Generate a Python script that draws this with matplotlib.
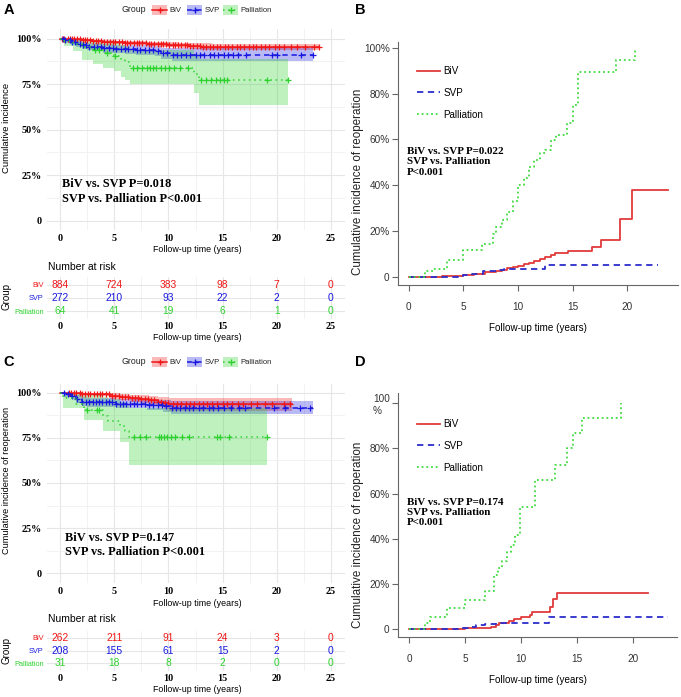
import numpy as np
import matplotlib
matplotlib.use("Agg")
import matplotlib.pyplot as plt
from matplotlib.patches import Rectangle
from matplotlib.lines import Line2D

# ---------------- data ----------------
groups = ["BiV", "SVP", "Palliation"]
risk_times = [0, 5, 10, 15, 20, 25]

# Panel A (survival-type curves, %)
a_biv_t = [0, 1, 2, 3, 4, 5, 6, 7, 8, 9, 10, 11, 12, 13, 14]
a_biv_s = [100, 99.5, 99.0, 98.6, 98.3, 98.0, 97.7, 97.4, 97.1, 96.8, 96.5, 96.2, 95.9, 95.6, 95.3]
a_biv_lo = [100, 99.0, 98.4, 97.9, 97.5, 97.1, 96.7, 96.3, 95.9, 95.5, 95.1, 94.7, 94.3, 93.9, 93.5]
a_biv_hi = [100, 100, 99.6, 99.3, 99.1, 98.9, 98.7, 98.5, 98.3, 98.1, 97.9, 97.7, 97.5, 97.3, 97.1]
a_biv_end = 23.9
a_biv_cens = [0.2, 0.4, 0.7, 0.9, 1.1, 1.3, 1.6, 1.8, 2.1, 2.3, 2.5, 2.8, 3.0, 3.3, 3.5, 3.8, 4.1, 4.3,
              4.6, 4.9, 5.1, 5.4, 5.7, 6.0, 6.2, 6.5, 6.8, 7.1, 7.3, 7.6, 7.9, 8.2, 8.4, 8.7, 9.0, 9.3,
              9.5, 9.8, 10.1, 10.4, 10.6, 10.9, 11.2, 11.5, 11.7, 12.0, 12.3, 12.6, 12.9, 13.2, 13.5,
              13.8, 14.1, 14.5, 14.8, 15.2, 15.5, 15.9, 16.3, 16.6, 17.0, 17.4, 17.8, 18.1, 18.5, 18.9,
              19.3, 19.8, 20.2, 20.7, 21.3, 21.9, 22.6, 23.4, 23.9]

a_svp_t = [0, 0.5, 1, 1.5, 2, 2.5, 3, 4, 5, 6, 7, 8, 8.8, 9.3, 10.3]
a_svp_s = [100, 99.0, 98.0, 97.2, 96.4, 95.6, 95.2, 94.6, 94.2, 94.0, 93.8, 93.5, 93.0, 92.0, 91.2]
a_svp_lo = [100, 97.8, 96.5, 95.5, 94.5, 93.5, 93.0, 92.3, 91.8, 91.5, 91.2, 90.8, 90.2, 89.0, 87.8]
a_svp_hi = [100, 100, 99.5, 99.0, 98.3, 97.7, 97.4, 96.9, 96.6, 96.5, 96.4, 96.2, 95.8, 95.0, 94.6]
a_svp_end = 23.3
a_svp_cens = [0.3, 0.5, 0.9, 1.1, 1.4, 1.8, 2.1, 2.4, 2.7, 3.1, 3.4, 3.8, 4.1, 4.5, 4.9, 5.2, 5.6,
              6.0, 6.3, 6.7, 7.1, 7.4, 7.8, 8.2, 8.6, 9.0, 9.5, 9.9, 10.4, 10.8, 11.2, 11.6, 12.0,
              12.5, 12.9, 13.3, 13.8, 14.2, 14.6, 15.1, 15.5, 16.0, 16.4, 17.2, 19.6, 20.0, 22.2, 23.3]

a_pal_t = [0, 0.4, 1.2, 2.0, 3.0, 4.0, 5.0, 5.6, 6.0, 6.5, 12.4, 12.8]
a_pal_s = [100, 98.4, 96.9, 95.3, 93.7, 92.1, 90.5, 88.9, 87.3, 84.0, 80.6, 77.3]
a_pal_lo = [100, 96.0, 93.0, 88.0, 86.0, 84.0, 82.0, 79.0, 77.0, 75.0, 70.0, 63.6]
a_pal_hi = [100, 100, 100, 99.5, 99.0, 98.5, 97.5, 96.5, 95.5, 93.5, 91.5, 89.0]
a_pal_end = 21.0
a_pal_cens = [3.2, 3.6, 4.3, 5.1, 6.7, 7.1, 7.6, 8.0, 8.3, 8.6, 8.9, 9.3, 9.7, 10.1, 10.5, 11.1,
              11.8, 13.0, 13.5, 13.9, 14.4, 14.8, 15.1, 15.4, 19.1, 21.0]

a_risk_biv = [884, 724, 383, 98, 7, 0]
a_risk_svp = [272, 210, 93, 22, 2, 0]
a_risk_pal = [64, 41, 19, 6, 1, 0]

# Panel C
c_biv_t = [0, 1, 2, 3, 4.6, 5.5, 6.5, 7.4, 8.2, 9.0, 9.6, 10.1]
c_biv_s = [100, 99.7, 99.4, 99.2, 98.2, 97.5, 97.0, 96.3, 95.8, 95.0, 94.3, 93.6]
c_biv_lo = [100, 99.0, 98.5, 98.0, 96.7, 95.8, 95.0, 94.0, 93.2, 92.0, 90.8, 89.6]
c_biv_hi = [100, 100, 100, 100, 99.5, 99.1, 98.8, 98.4, 98.2, 97.8, 97.5, 97.2]
c_biv_end = 21.4
c_biv_cens = [0.8, 1.0, 1.3, 1.5, 1.8, 2.0, 2.3, 2.6, 2.8, 3.1, 3.4, 3.7, 3.9, 4.2, 4.5, 4.8, 5.1,
              5.4, 5.7, 6.0, 6.3, 6.6, 6.9, 7.2, 7.5, 7.8, 8.1, 8.4, 8.7, 9.0, 9.3, 9.7, 10.0, 10.4,
              10.8, 11.2, 11.6, 12.0, 12.4, 12.8, 13.2, 13.6, 14.0, 14.5, 15.0, 15.4, 15.9, 16.4,
              16.9, 17.6, 18.2, 18.9, 19.6, 20.7, 21.2]

c_svp_t = [0, 0.5, 1.0, 1.5, 2.0, 2.5, 5.2, 8.0, 9.5, 10.2]
c_svp_s = [100, 99.0, 98.2, 96.3, 95.0, 94.5, 93.9, 93.2, 92.5, 91.7]
c_svp_lo = [100, 97.7, 96.2, 94.2, 92.7, 92.1, 91.3, 90.3, 89.3, 88.0]
c_svp_hi = [100, 100, 100, 98.5, 97.4, 96.9, 96.5, 96.0, 95.7, 95.4]
c_svp_end = 23.3
c_svp_cens = [0.4, 0.7, 1.1, 1.6, 2.0, 2.4, 2.7, 3.0, 3.3, 3.6, 3.9, 4.2, 4.5, 4.8, 5.2, 5.5, 5.8,
              6.1, 6.5, 6.8, 7.1, 7.5, 7.8, 8.2, 8.6, 9.0, 9.4, 9.8, 10.3, 10.7, 11.1, 11.5, 11.9,
              12.3, 12.8, 13.2, 13.7, 14.1, 14.6, 15.1, 15.8, 16.5, 17.1, 19.7, 20.8, 22.1, 23.1]

c_pal_t = [0, 0.3, 1.5, 2.2, 4.0, 4.4, 5.5, 6.0, 6.4]
c_pal_s = [100, 96.8, 93.5, 90.3, 87.0, 84.5, 81.5, 79.0, 75.2]
c_pal_lo = [100, 91.4, 91.4, 85.0, 78.9, 78.9, 72.8, 72.8, 60.2]
c_pal_hi = [100, 100, 100, 99.0, 97.5, 96.5, 95.0, 93.5, 91.5]
c_pal_end = 19.1
c_pal_cens = [2.5, 3.4, 3.6, 6.8, 7.4, 7.9, 9.1, 9.3, 9.6, 9.9, 10.2, 10.6, 11.3, 11.9, 14.5,
              14.8, 15.6, 19.1]

c_risk_biv = [262, 211, 91, 24, 3, 0]
c_risk_svp = [208, 155, 61, 15, 2, 0]
c_risk_pal = [31, 18, 8, 2, 0, 0]

# Panel B (cumulative incidence of reoperation, %)
b_biv_t = [0, 3, 5, 6, 7, 8, 8.5, 9, 9.5, 10, 10.5, 11, 11.5, 12, 12.5, 13, 13.4, 14.6, 16.8, 17.6, 19.3, 20.4]
b_biv_v = [0, 0.5, 1, 1.5, 2, 2.7, 3.2, 4, 4.5, 5, 5.5, 6.3, 7, 7.8, 8.5, 9.5, 10.5, 11.2, 13, 16, 25.3, 37.8]
b_biv_end = 23.7
b_svp_t = [0, 4.5, 5, 5.8, 6.8, 8, 8.7, 12.5]
b_svp_v = [0, 0.5, 1, 1.5, 2.5, 3, 3.5, 5.2]
b_svp_end = 22.8
b_pal_t = [0, 1.5, 2.2, 3.5, 5.0, 6.7, 7.7, 8.0, 8.5, 9.0, 9.5, 10.0, 10.5, 11.0, 11.5, 12.0, 12.5,
           13.0, 13.5, 14.5, 15.0, 15.5, 19.0, 20.7]
b_pal_v = [0, 2.5, 3.6, 7.6, 11.9, 14.3, 18.6, 21.8, 25, 28.5, 33, 40, 43, 48, 51, 54, 55.5,
           59.7, 62, 67, 75, 89.5, 94.5, 100]
b_pal_end = 20.7

# Panel D
d_biv_t = [0, 5.0, 7.3, 7.8, 8.0, 8.9, 9.4, 10.0, 10.8, 11.0, 12.6, 12.8, 13.2]
d_biv_v = [0, 0.4, 1.0, 2.0, 3.0, 3.5, 4.5, 5.5, 6.5, 7.8, 10, 13.5, 15.9]
d_biv_end = 21.3
d_svp_t = [0, 4.6, 5.5, 6.0, 6.8, 7.8, 12.5]
d_svp_v = [0, 0.7, 1.2, 1.8, 2.5, 3.0, 5.6]
d_svp_end = 23.1
d_pal_t = [0, 1.45, 1.9, 3.4, 5.0, 6.8, 7.6, 7.9, 8.3, 8.7, 9.1, 9.45, 9.9, 11.2, 13.0, 14.1,
           14.65, 15.45, 18.95]
d_pal_v = [0, 2.8, 5.6, 9.3, 13, 17, 24, 27, 30, 34, 37.5, 41.7, 54.3, 66, 72.7, 80, 86.7, 93.4, 100]
d_pal_end = 18.95

# ---------------- style ----------------
W, H = 681, 697
SANS = ["Liberation Sans", "DejaVu Sans"]
SERIF = ["Liberation Serif", "DejaVu Serif"]
KM_COL = ["#F01818", "#1818E0", "#2ED22E"]
CI_COL = ["#E23A3A", "#2D2DCC", "#3FDC3F"]
KM_LS = ["-", (0, (3.5, 2.5)), (0, (1, 2.5))]
CI_LS = ["-", (0, (3.5, 2.5)), (0, (1, 1.6))]
GRID = "#E6E6E6"

fig = plt.figure(figsize=(W / 100, H / 100), dpi=100)


def px_axes(l, t, r, b, **kw):
    return fig.add_axes([l / W, 1 - b / H, (r - l) / W, (b - t) / H], **kw)


def stepxy(t, v, end):
    return np.r_[t, end], np.r_[v, v[-1]]


def at(t, v, c):
    idx = np.searchsorted(np.asarray(t), np.asarray(c), side="right") - 1
    return np.asarray(v)[idx]


def gg_grid(ax):
    ax.set_xlim(-1.25, 26.25)
    ax.set_xticks(risk_times)
    ax.set_xticks([2.5, 7.5, 12.5, 17.5, 22.5], minor=True)
    ax.grid(which="major", color=GRID, lw=0.8)
    ax.grid(which="minor", color="#F0F0F0", lw=0.6)
    ax.set_axisbelow(True)
    for s in ax.spines.values():
        s.set_visible(False)
    ax.tick_params(which="both", length=0)


def km_panel(ax, curves):
    gg_grid(ax)
    ax.set_ylim(-5, 105)
    ax.set_yticks([0, 25, 50, 75, 100])
    ax.set_yticks([12.5, 37.5, 62.5, 87.5], minor=True)
    ax.set_yticklabels(["0", "25%", "50%", "75%", "100%"])
    ax.set_xticklabels([str(v) for v in risk_times])
    ax.tick_params(axis="y", pad=3.2)
    ax.tick_params(axis="x", pad=3)
    for lab in ax.get_xticklabels() + ax.get_yticklabels():
        lab.set_family(SERIF)
        lab.set_weight("bold")
        lab.set_fontsize(7.3)
    for (t, s, lo, hi, end, cens), col in zip(curves, KM_COL):
        x, ylo = stepxy(t, lo, end)
        _, yhi = stepxy(t, hi, end)
        ax.fill_between(x, ylo, yhi, step="post", color=col, alpha=0.3, lw=0)
    for (t, s, lo, hi, end, cens), col, ls in zip(curves, KM_COL, KM_LS):
        x, y = stepxy(t, s, end)
        ax.step(x, y, where="post", color=col, ls=ls, lw=1.1)
        ax.plot(cens, at(t, s, cens), ls="none", marker="+", ms=4, mew=0.9, color=col)


def risk_table(ax, rows):
    gg_grid(ax)
    ax.set_ylim(0.4, 3.6)
    ax.set_yticks([3, 2, 1])
    ax.set_yticklabels(groups)
    ax.set_xticklabels([str(v) for v in risk_times])
    ax.tick_params(axis="x", pad=2.2)
    ax.tick_params(axis="y", pad=2)
    for lab in ax.get_xticklabels():
        lab.set_family(SERIF)
        lab.set_weight("bold")
        lab.set_fontsize(7.3)
    for lab, col in zip(ax.get_yticklabels(), KM_COL):
        lab.set_color(col)
        lab.set_family(SANS)
        lab.set_fontsize(5.3)
    for row, vals, col in zip([3, 2, 1], rows, KM_COL):
        for tt, n in zip(risk_times, vals):
            ax.text(tt, row, str(n), ha="center", va="center", color=col, fontsize=7.4, family=SANS)


def ci_panel(ax, curves, xlim, ylim, top_label):
    for (t, v, end), col, ls in zip(curves, CI_COL, CI_LS):
        x, y = stepxy(t, v, end)
        ax.step(x, y, where="post", color=col, ls=ls, lw=1.3)
    ax.set_xlim(*xlim)
    ax.set_ylim(*ylim)
    ax.spines["top"].set_visible(False)
    ax.spines["right"].set_visible(False)
    for s in ["left", "bottom"]:
        ax.spines[s].set_color("#666666")
        ax.spines[s].set_linewidth(0.8)
    ax.set_xticks([0, 5, 10, 15, 20])
    ax.set_yticks([0, 20, 40, 60, 80, 100])
    ax.set_yticklabels(["0", "20%", "40%", "60%", "80%", top_label])
    ax.tick_params(direction="out", length=4, color="#666666", labelsize=7.2, labelcolor="#333333")
    ax.tick_params(axis="x", pad=8)
    ax.tick_params(axis="y", pad=2)
    for lab in ax.get_xticklabels() + ax.get_yticklabels():
        lab.set_family(SANS)
    ax.get_yticklabels()[-1].set_multialignment("left")
    handles = [Line2D([], [], color=c, ls=l, lw=1.3) for c, l in zip(CI_COL, CI_LS)]
    return handles


# ---------------- panels ----------------
axA = px_axes(46.5, 29.4, 344.5, 230)
km_panel(axA, [
    (a_biv_t, a_biv_s, a_biv_lo, a_biv_hi, a_biv_end, a_biv_cens),
    (a_svp_t, a_svp_s, a_svp_lo, a_svp_hi, a_svp_end, a_svp_cens),
    (a_pal_t, a_pal_s, a_pal_lo, a_pal_hi, a_pal_end, a_pal_cens),
])
axAt = px_axes(46.5, 277, 344.5, 319)
risk_table(axAt, [a_risk_biv, a_risk_svp, a_risk_pal])

axC = px_axes(46.5, 383.5, 344.5, 582.5)
km_panel(axC, [
    (c_biv_t, c_biv_s, c_biv_lo, c_biv_hi, c_biv_end, c_biv_cens),
    (c_svp_t, c_svp_s, c_svp_lo, c_svp_hi, c_svp_end, c_svp_cens),
    (c_pal_t, c_pal_s, c_pal_lo, c_pal_hi, c_pal_end, c_pal_cens),
])
axCt = px_axes(46.5, 630.5, 344.5, 670.5)
risk_table(axCt, [c_risk_biv, c_risk_svp, c_risk_pal])

axB = px_axes(398, 42, 678, 285)
hB = ci_panel(axB, [(b_biv_t, b_biv_v, b_biv_end), (b_svp_t, b_svp_v, b_svp_end),
                    (b_pal_t, b_pal_v, b_pal_end)], (-1.0, 24.65), (-3.5, 102.5), "100%")
axB.legend(hB, groups, loc="upper left", bbox_to_anchor=(417 / W, 1 - 66 / H),
           bbox_transform=fig.transFigure, frameon=False, borderpad=0, borderaxespad=0,
           handlelength=2.3, handletextpad=0.35, labelspacing=1.2,
           prop={"family": SANS, "size": 7.1})

axD = px_axes(398, 393, 677, 637)
hD = ci_panel(axD, [(d_biv_t, d_biv_v, d_biv_end), (d_svp_t, d_svp_v, d_svp_end),
                    (d_pal_t, d_pal_v, d_pal_end)], (-0.98, 23.9), (-3.4, 104.5), "100\n%")
axD.legend(hD, groups, loc="upper left", bbox_to_anchor=(417 / W, 1 - 419 / H),
           bbox_transform=fig.transFigure, frameon=False, borderpad=0, borderaxespad=0,
           handlelength=2.3, handletextpad=0.35, labelspacing=1.2,
           prop={"family": SANS, "size": 7.1})

# ---------------- overlay texts ----------------
ov = fig.add_axes([0, 0, 1, 1], zorder=10)
ov.set_xlim(0, W)
ov.set_ylim(H, 0)
ov.axis("off")

for x, y, s in [(9, 10, "A"), (360, 10, "B"), (9, 362, "C"), (360, 362, "D")]:
    ov.text(x, y, s, fontsize=10.5, weight="bold", family=SANS, ha="center", va="center")

# ggplot-style legends for A and C
for yc in (10, 362):
    ov.text(122, yc, "Group", fontsize=6.3, family=SANS, ha="left", va="center", color="#222222")
    for x0, col, ls, lab in zip([152, 187, 223], KM_COL, KM_LS, groups):
        ov.add_patch(Rectangle((x0, yc - 5.2), 15, 10.4, color=col, alpha=0.3, lw=0))
        ov.add_line(Line2D([x0, x0 + 15], [yc, yc], color=col, ls=ls, lw=1.1))
        ov.add_line(Line2D([x0 + 7.5], [yc], color=col, marker="+", ms=4.5, mew=1))
        ov.text(x0 + 17.5, yc, lab, fontsize=5.5, family=SANS, ha="left", va="center", color="#222222")

# axis titles
ov.text(197, 249, "Follow-up time (years)", fontsize=6.4, family=SANS, ha="center", va="center")
ov.text(197, 338, "Follow-up time (years)", fontsize=6.4, family=SANS, ha="center", va="center")
ov.text(197, 603, "Follow-up time (years)", fontsize=6.4, family=SANS, ha="center", va="center")
ov.text(197, 689, "Follow-up time (years)", fontsize=6.4, family=SANS, ha="center", va="center")
ov.text(538, 328, "Follow-up time (years)", fontsize=7.1, family=SANS, ha="center", va="center")
ov.text(538, 680, "Follow-up time (years)", fontsize=7.1, family=SANS, ha="center", va="center")

ov.text(48, 267, "Number at risk", fontsize=7.5, family=SANS, ha="left", va="center")
ov.text(48, 619, "Number at risk", fontsize=7.5, family=SANS, ha="left", va="center")

ov.text(7, 128, "Cumulative incidence", fontsize=6.8, family=SANS, rotation=90, ha="center", va="center")
ov.text(7, 480, "Cumulative incidence of reoperation", fontsize=6.6, family=SANS, rotation=90,
        ha="center", va="center")
ov.text(7, 297, "Group", fontsize=7, family=SANS, rotation=90, ha="center", va="center")
ov.text(7, 650, "Group", fontsize=7, family=SANS, rotation=90, ha="center", va="center")
ov.text(358, 182, "Cumulative incidence of reoperation", fontsize=8.4, family=SANS, rotation=90,
        ha="center", va="center", color="#222222")
ov.text(358, 535, "Cumulative incidence of reoperation", fontsize=8.4, family=SANS, rotation=90,
        ha="center", va="center", color="#222222")

# p-values
ov.text(62, 191.5, "BiV vs. SVP P=0.018\nSVP vs. Palliation P<0.001", fontsize=8.9, family=SERIF,
        weight="bold", ha="left", va="center", linespacing=1.35)
ov.text(65, 545, "BiV vs. SVP P=0.147\nSVP vs. Palliation P<0.001", fontsize=8.9, family=SERIF,
        weight="bold", ha="left", va="center", linespacing=1.12)
ov.text(407, 162, "BiV vs. SVP P=0.022\nSVP vs. Palliation\nP<0.001", fontsize=7.9, family=SERIF,
        weight="bold", ha="left", va="center", linespacing=1.18)
ov.text(407, 512.5, "BiV vs. SVP P=0.174\nSVP vs. Palliation\nP<0.001", fontsize=7.9, family=SERIF,
        weight="bold", ha="left", va="center", linespacing=1.18)

fig.savefig("out.png", dpi=100)
